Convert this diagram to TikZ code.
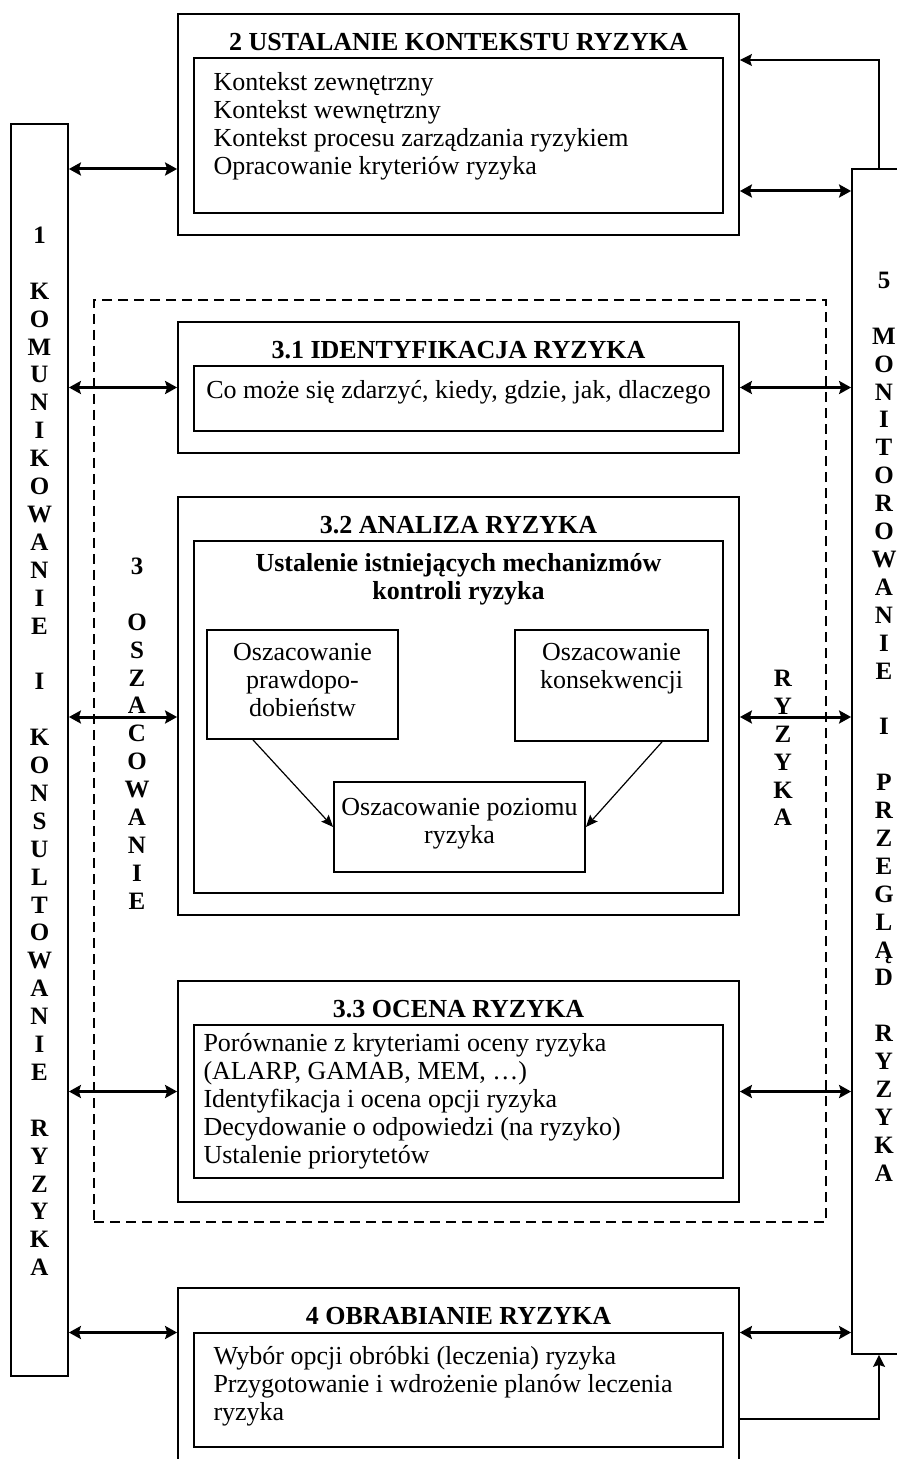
\documentclass[tikz,border=0pt]{standalone}
\usepackage{fontspec}
\setmainfont{Liberation Serif}
\usetikzlibrary{arrows.meta}
\usetikzlibrary{fit}
\usetikzlibrary{positioning}

\newcommand{\bodyfont}{\fontsize{13}{14}\selectfont}
\newcommand{\stackfont}{\fontsize{12.5}{13.95}\selectfont\bfseries}

\begin{document}
\begin{tikzpicture}[x=0.5pt,y=-0.5pt,
    box/.style={draw,line width=0.9pt,inner sep=0pt},
    areabox/.style={draw,line width=0.8pt,dash pattern=on 5pt off 3pt,inner sep=0pt},
    headline/.style={font=\bodyfont\bfseries,inner sep=0pt,anchor=north},
    body/.style={font=\bodyfont,align=left,inner sep=0pt},
    letters/.style={font=\stackfont,align=center,inner sep=0pt,anchor=north},
    dbl/.style={<->,line width=1.5pt,>={Stealth[length=6pt,width=6.5pt,inset=1pt]}},
    fb/.style={->,line width=0.8pt,>={Stealth[length=6pt,width=6pt,inset=1pt]}},
    flow/.style={->,line width=0.6pt,>={Stealth[length=6pt,width=5pt,inset=1pt]}}]

  \fill[white] (0,0) rectangle (897,1459);
  \useasboundingbox (0,0) rectangle (897,1459);

  % side columns
  \node [box,fit={(11,124) (68,1376)}] (kom) {};
  \node [box,fit={(852,169) (912,1354)}] (mon) {};
  \node [letters] (komt) at (39.5,223.5) {\strut 1\\~\\K\\O\\M\\U\\N\\I\\K\\O\\W\\A\\N\\I\\E\\~\\I\\~\\K\\O\\N\\S\\U\\L\\T\\O\\W\\A\\N\\I\\E\\~\\R\\Y\\Z\\Y\\K\\A};
  \node [letters] (mont) at (884,268.5) {\strut 5\\~\\M\\O\\N\\I\\T\\O\\R\\O\\W\\A\\N\\I\\E\\~\\I\\~\\P\\R\\Z\\E\\G\\L\\Ą\\D\\~\\R\\Y\\Z\\Y\\K\\A};

  % 2
  \node [box,fit={(178,14) (739,235)}] (ctxo) {};
  \node [box,fit={(194,58) (723,213)}] (ctxi) {};
  \node [headline,below=8.5pt of ctxo.north] (ctxt) {\strut 2 USTALANIE KONTEKSTU RYZYKA};
  \node [body,below right=6.5pt and 10pt of ctxi.north west] (ctxl)
    {\strut Kontekst zewnętrzny\\Kontekst wewnętrzny\\Kontekst procesu zarządzania ryzykiem\\Opracowanie kryteriów ryzyka};

  % 3
  \node [areabox,fit={(94,300) (826,1222)}] (ass) {};
  \node [letters] (asst) at (137,554.5) {\strut 3\\~\\O\\S\\Z\\A\\C\\O\\W\\A\\N\\I\\E};
  \node [letters] (assr) at (783,666.5) {\strut R\\Y\\Z\\Y\\K\\A};

  % 3.1
  \node [box,fit={(178,322) (739,453)}] (ido) {};
  \node [box,fit={(194,366) (723,431)}] (idi) {};
  \node [headline,below=8.5pt of ido.north] (idt) {\strut 3.1 IDENTYFIKACJA RYZYKA};
  \node [body,below=6.5pt of idi.north] (idl) {\strut Co może się zdarzyć, kiedy, gdzie, jak, dlaczego};

  % 3.2
  \node [box,fit={(178,497) (739,915)}] (ano) {};
  \node [box,fit={(194,541) (723,893)}] (ani) {};
  \node [headline,below=8.5pt of ano.north] (ant) {\strut 3.2 ANALIZA RYZYKA};
  \node [body,font=\bodyfont\bfseries,align=center,below=5.7pt of ani.north] (anl)
    {\strut Ustalenie istniejących mechanizmów\\kontroli ryzyka};
  \node [box,fit={(207,630) (398,739)}] (prob) {};
  \node [box,fit={(515,630) (708,741)}] (kons) {};
  \node [box,fit={(334,782) (585,872)}] (lvl) {};
  \node [body,align=center,below=5.7pt of prob.north] (probl) {\strut Oszacowanie\\prawdopo-\\dobieństw};
  \node [body,align=center,below=5.7pt of kons.north] (konsl) {\strut Oszacowanie\\konsekwencji};
  \node [body,align=center,below=7.2pt of lvl.north] (lvll) {\strut Oszacowanie poziomu\\ryzyka};
  \draw [flow] ([xshift=-24.75pt]prob.south) -- (lvl.west);
  \draw [flow] ([xshift=25.25pt]kons.south) -- (lvl.east);

  % 3.3
  \node [box,fit={(178,981) (739,1202)}] (evo) {};
  \node [box,fit={(194,1025) (723,1178)}] (evi) {};
  \node [headline,below=8.5pt of evo.north] (evt) {\strut 3.3 OCENA RYZYKA};
  \node [body,below right=3.8pt and 5pt of evi.north west] (evl)
    {\strut Porównanie z kryteriami oceny ryzyka\\(ALARP, GAMAB, MEM, \ldots)\\Identyfikacja i ocena opcji ryzyka\\Decydowanie o odpowiedzi (na ryzyko)\\Ustalenie priorytetów};

  % 4
  \node [box,fit={(178,1288) (739,1475)}] (tro) {};
  \node [box,fit={(194,1333) (723,1447)}] (tri) {};
  \node [headline,below=8.5pt of tro.north] (trt) {\strut 4 OBRABIANIE RYZYKA};
  \node [body,below right=6pt and 10pt of tri.north west] (trl)
    {\strut Wybór opcji obróbki (leczenia) ryzyka\\Przygotowanie i wdrożenie planów leczenia\\ryzyka};

  % connectors
  \coordinate (ctxa) at ([yshift=-22.25pt]ctxo.west);
  \coordinate (ctxb) at ([yshift=-33.25pt]ctxo.east);
  \coordinate (ana) at ([yshift=-5.5pt]ano.west);
  \coordinate (anb) at ([yshift=-5.5pt]ano.east);
  \coordinate (tra) at ([yshift=24.5pt]tro.west);
  \coordinate (trb) at ([yshift=24.5pt]tro.east);

  \path [dbl]
    (kom.east |- ctxa) edge (ctxa)
    (kom.east |- ido.west) edge (ido.west)
    (kom.east |- ana) edge (ana)
    (kom.east |- evo.west) edge (evo.west)
    (kom.east |- tra) edge (tra)
    (ctxb) edge (mon.west |- ctxb)
    (ido.east) edge (mon.west |- ido.east)
    (anb) edge (mon.west |- anb)
    (evo.east) edge (mon.west |- evo.east)
    (trb) edge (mon.west |- trb);

  \coordinate (fbtop) at (879,60);
  \coordinate (fbbot) at (879,1419);
  \draw [fb] (mon.north -| fbtop) -- (fbtop) -- (ctxo.east |- fbtop);
  \draw [fb] (tro.east |- fbbot) -- (fbbot) -- (mon.south -| fbbot);

\end{tikzpicture}
\end{document}
